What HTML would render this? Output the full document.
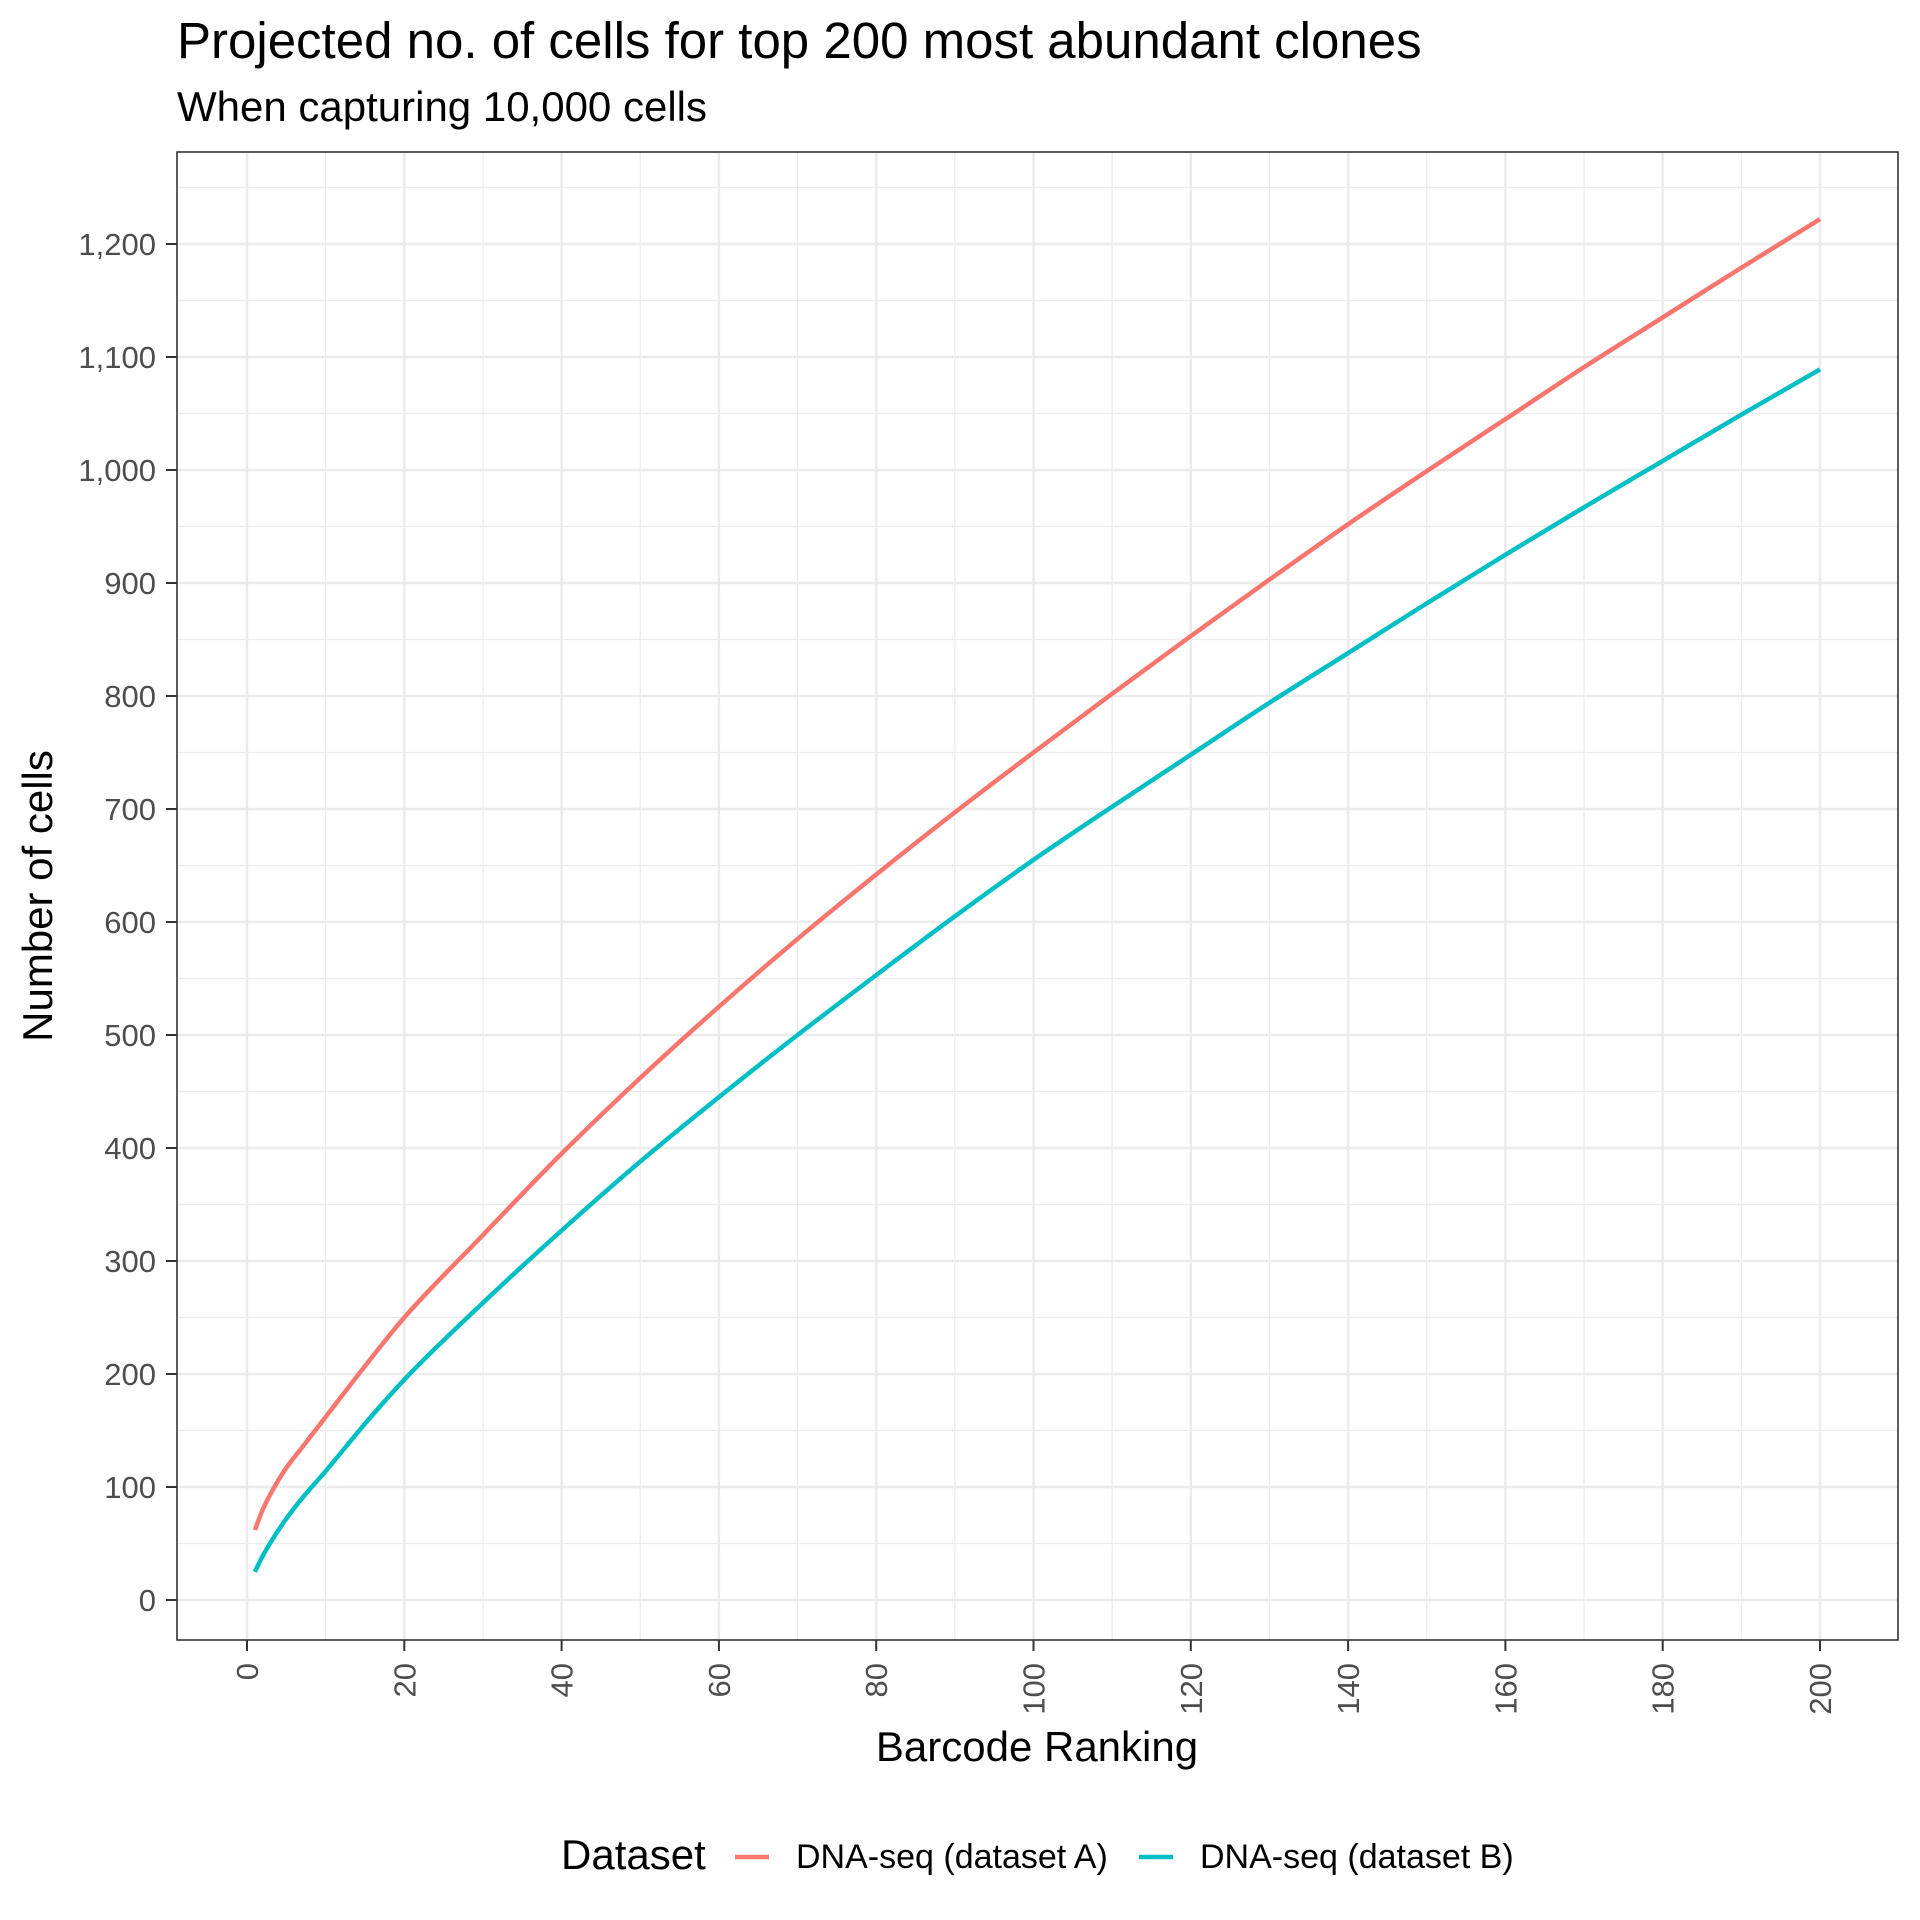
<!DOCTYPE html>
<html><head><meta charset="utf-8"><style>
html,body{margin:0;padding:0;background:#fff}
svg{display:block;font-family:"Liberation Sans",Arial,sans-serif}
</style></head><body>
<svg id="chart" width="1920" height="1920" viewBox="0 0 1920 1920" xmlns="http://www.w3.org/2000/svg">
<rect x="0" y="0" width="1920" height="1920" fill="#fff"/>
<text x="177" y="58" font-size="51" fill="#000">Projected no. of cells for top 200 most abundant clones</text>
<text x="177" y="121" font-size="42" fill="#000">When capturing 10,000 cells</text>
<g id="grid"></g>
<g id="series"></g>
<rect x="177" y="152" width="1721" height="1488" fill="none" stroke="#333" stroke-width="1.6"/>
<g id="axes"></g>
<text x="1037" y="1761" font-size="42" text-anchor="middle" fill="#000">Barcode Ranking</text>
<text transform="translate(52,896) rotate(-90)" font-size="42" text-anchor="middle" fill="#000">Number of cells</text>
<g>
<text x="561" y="1869" font-size="42" fill="#000">Dataset</text>
<line x1="735" y1="1857" x2="769" y2="1857" stroke="#F8766D" stroke-width="4.5"/>
<text x="796" y="1868" font-size="34" fill="#000">DNA-seq (dataset A)</text>
<line x1="1139" y1="1857" x2="1173" y2="1857" stroke="#00BFC4" stroke-width="4.5"/>
<text x="1200" y="1868" font-size="34" fill="#000">DNA-seq (dataset B)</text>
</g>
</svg>
<script>
const ranks = [1,2,3,5,7,10,15,20,30,40,50,60,70,80,90,100,110,120,130,140,150,160,170,180,190,200];
const seriesA = [62,80,94,117,135,162,207,250,323,395,462,525,585,642,697,750,802,853,903,952,999,1045,1091,1135,1179,1222];
const seriesB = [25,39,51,72,90,114,156,195,263,327,388,445,500,553,605,655,702,748,794,838,882,925,967,1008,1049,1089];
const xTicks = [0,20,40,60,80,100,120,140,160,180,200];
const yTicks = [0,100,200,300,400,500,600,700,800,900,1000,1100,1200];
const yTickLabels = ["0","100","200","300","400","500","600","700","800","900","1,000","1,100","1,200"];

const NS = "http://www.w3.org/2000/svg";
const PL=177, PR=1898, PT=152, PB=1640;
function xs(v){return 247 + v*7.865;}
function ys(v){return 1600 - v*1.13;}
function mk(tag, attrs, parent){const e=document.createElementNS(NS,tag);for(const k in attrs)e.setAttribute(k,attrs[k]);parent.appendChild(e);return e;}
const grid=document.getElementById('grid'), axes=document.getElementById('axes'), ser=document.getElementById('series');
mk('rect',{x:PL,y:PT,width:PR-PL,height:PB-PT,fill:'#fff'},grid);
for(let v=-50; v<=1300; v+=100){const y=ys(v); if(y<PT||y>PB) continue;
 const l=mk('line',{x1:PL,x2:PR,y1:y,y2:y,stroke:'#ebebeb','stroke-width':1.2},grid);
 
 }
for(let v=-10; v<=220; v+=20){const x=xs(v); if(x<PL||x>PR) continue;
 const l=mk('line',{x1:x,x2:x,y1:PT,y2:PB,stroke:'#ebebeb','stroke-width':1.2},grid);
 
 }
yTicks.forEach((v,i)=>{const y=ys(v);
 const g=mk('line',{x1:PL,x2:PR,y1:y,y2:y,stroke:'#ebebeb','stroke-width':2.4},grid);
 
 
 const t=mk('line',{x1:166,x2:PL,y1:y,y2:y,stroke:'#333','stroke-width':2},axes);
 
 
 const tx=mk('text',{x:156,y:y+11,'font-size':31,'text-anchor':'end',fill:'#4d4d4d'},axes);
 tx.textContent=yTickLabels[i];
 
 });
xTicks.forEach(v=>{const x=xs(v);
 const g=mk('line',{x1:x,x2:x,y1:PT,y2:PB,stroke:'#ebebeb','stroke-width':2.4},grid);
 
 
 const t=mk('line',{x1:x,x2:x,y1:PB,y2:PB+11,stroke:'#333','stroke-width':2},axes);
 
 
 const tx=mk('text',{transform:`translate(${x+11},1663) rotate(-90)`,'font-size':31,'text-anchor':'end',fill:'#4d4d4d'},axes);
 tx.textContent=String(v);
 
 });
function curve(vals){
 const p=ranks.map((r,i)=>[xs(r),ys(vals[i])]);
 const n=p.length, s=[], m=[];
 for(let i=0;i<n-1;i++) s.push((p[i+1][1]-p[i][1])/(p[i+1][0]-p[i][0]));
 m[0]=s[0]; m[n-1]=s[n-2];
 for(let i=1;i<n-1;i++){
  if(s[i-1]*s[i]<=0){m[i]=0;continue;}
  const h0=p[i][0]-p[i-1][0], h1=p[i+1][0]-p[i][0];
  const w1=2*h1+h0, w2=h1+2*h0;
  m[i]=(w1+w2)/(w1/s[i-1]+w2/s[i]);
 }
 let d=`M${p[0][0]},${p[0][1]}`;
 for(let i=0;i<n-1;i++){
  const h=(p[i+1][0]-p[i][0])/3;
  d+=` C${p[i][0]+h},${p[i][1]+m[i]*h} ${p[i+1][0]-h},${p[i+1][1]-m[i+1]*h} ${p[i+1][0]},${p[i+1][1]}`;
 }
 return d;
}
const la=mk('path',{d:curve(seriesA),fill:'none',stroke:'#F8766D','stroke-width':4.5},ser);


const lb=mk('path',{d:curve(seriesB),fill:'none',stroke:'#00BFC4','stroke-width':4.5},ser);


</script>
</body></html>
